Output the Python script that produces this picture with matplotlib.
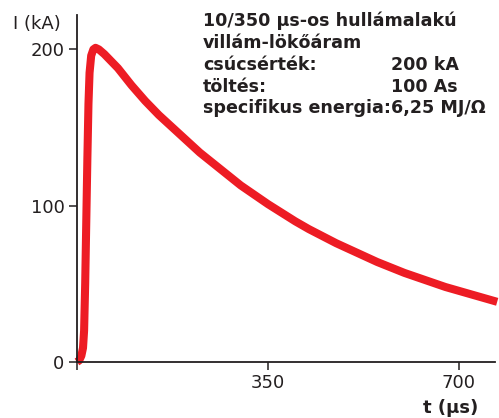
import numpy as np
import matplotlib
matplotlib.use('Agg')
import matplotlib.pyplot as plt

# values: time (us) and current (kA)
t_us = [0, 4, 8, 11, 13, 15, 17, 19, 21, 23, 26, 30, 34, 40,
        50, 75, 100, 125, 150, 175, 200, 225, 250, 275, 300, 325, 350,
        375, 400, 425, 450, 475, 500, 525, 550, 575, 600, 625, 650, 675,
        700, 725, 750, 770]
i_ka = [0, 1, 4, 9, 20, 50, 90, 130, 165, 185, 196, 200, 201, 200,
        197, 188, 177, 167, 158, 150, 142, 134, 127, 120, 113, 107, 101,
        95.5, 90, 85, 80.5, 76, 72, 68, 64, 60.5, 57, 54, 51, 48,
        45.5, 43, 40.5, 38.5]

xticks = [0, 350, 700]
xticklabels = ['', '350', '700']
yticks = [0, 100, 200]

info_left = ['10/350 µs-os hullámalakú', 'villám-lökőáram', 'csúcsérték:', 'töltés:', 'specifikus energia:']
info_right = ['', '', '200 kA', '100 As', '6,25 MJ/Ω']

plt.rcParams['font.family'] = ['DejaVu Sans']
ink = '#231f20'

W, H = 499, 418
fig = plt.figure(figsize=(W / 100, H / 100), dpi=100)
ax = fig.add_axes([77 / W, 56 / H, (495 - 77) / W, (362 - 15) / H])

ax.plot(t_us, i_ka, color='#ed1c24', lw=5.8, solid_capstyle='butt', solid_joinstyle='round', clip_on=False)

ax.set_xlim(0, 766)
ax.set_ylim(0, 222)
ax.set_xticks(xticks)
ax.set_xticklabels(xticklabels)
ax.set_yticks(yticks)
for s in ['top', 'right']:
    ax.spines[s].set_visible(False)
for s in ['left', 'bottom']:
    ax.spines[s].set_color(ink)
    ax.spines[s].set_linewidth(1.3)
ax.tick_params(direction='out', length=6, width=1.1, color=ink, labelcolor=ink, labelsize=13, pad=3)

fig.text(13 / W, 1 - 24 / H, 'I (kA)', fontsize=13, color=ink, va='center', ha='left')
fig.text(478 / W, 1 - 408 / H, 't (µs)', fontsize=13, color=ink, va='center', ha='right', fontweight='bold')

ys = [21, 43, 65, 87, 108]
for y, a, b in zip(ys, info_left, info_right):
    fig.text(203 / W, 1 - y / H, a, fontsize=12.6, fontweight='bold', color=ink, va='center', ha='left')
    if b:
        fig.text(391 / W, 1 - y / H, b, fontsize=12.6, fontweight='bold', color=ink, va='center', ha='left')

fig.savefig('out.png', dpi=100)
